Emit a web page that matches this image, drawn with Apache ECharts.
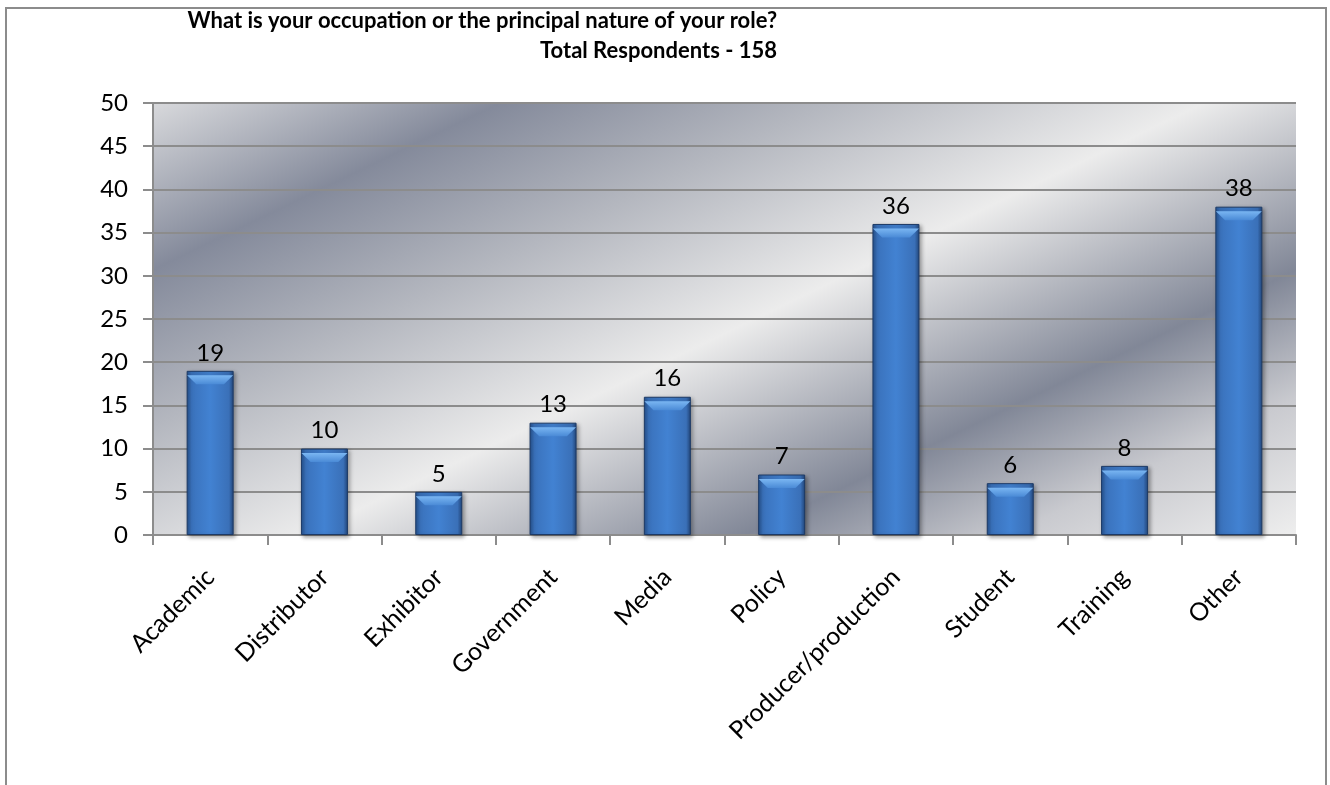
<!DOCTYPE html>
<html>
<head>
<meta charset="utf-8">
<script src="https://cdn.jsdelivr.net/npm/echarts@6/dist/echarts.min.js"></script>
<style>
  html, body { margin: 0; padding: 0; background: #fff; }
  #main { width: 1330px; height: 785px; }
</style>
</head>
<body>
<div id="main"></div>
<script>
  // survey answers
  var categories = ['Academic', 'Distributor', 'Exhibitor', 'Government', 'Media', 'Policy', 'Producer/production', 'Student', 'Training', 'Other']
  var counts = [19, 10, 5, 13, 16, 7, 36, 6, 8, 38]
  var titleLines = ['What is your occupation or the principal nature of your role?', 'Total Respondents - 158']

  var font = 'Lato, "Open Sans", sans-serif'

  // satin-like backdrop, bands running up to the right
  var plotBg = new echarts.graphic.LinearGradient(153, 103, 536, 900, [
    { offset: 0, color: '#d8d9dc' },
    { offset: 0.17, color: '#848a9b' },
    { offset: 0.33, color: '#b4b7bf' },
    { offset: 0.515, color: '#ececec' },
    { offset: 0.6, color: '#c2c4ca' },
    { offset: 0.73, color: '#818797' },
    { offset: 0.86, color: '#c9cacf' },
    { offset: 1, color: '#eeeeee' }
  ], true)

  var barFill = new echarts.graphic.LinearGradient(0, 0, 1, 0, [
    { offset: 0, color: '#24508c' },
    { offset: 0.1, color: '#3a72bc' },
    { offset: 0.5, color: '#4282d2' },
    { offset: 0.9, color: '#3a70b8' },
    { offset: 1, color: '#22467a' }
  ])

  var option = {
    backgroundColor: '#ffffff',
    animation: false,
    title: {
      text: titleLines.join('\n'),
      left: 772,
      top: 1,
      textAlign: 'right',
      textStyle: {
        fontFamily: font,
        fontSize: 22,
        fontWeight: 'bold',
        color: '#000',
        lineHeight: 30
      }
    },
    graphic: [{
      type: 'rect',
      shape: { x: 6, y: 8, width: 1320, height: 800 },
      style: { fill: 'none', stroke: '#8c8c8c', lineWidth: 2 },
      silent: true
    }],
    grid: {
      left: 153,
      right: 34,
      top: 103,
      bottom: 250,
      show: true,
      borderWidth: 0,
      backgroundColor: plotBg
    },
    xAxis: {
      type: 'category',
      data: categories,
      axisLine: { lineStyle: { color: '#8c8c8c', width: 2 } },
      axisTick: { show: true, length: 10, lineStyle: { color: '#8c8c8c', width: 2 } },
      axisLabel: {
        rotate: 45,
        margin: 38,
        interval: 0,
        fontFamily: font,
        fontSize: 25,
        color: '#000'
      }
    },
    yAxis: {
      type: 'value',
      min: 0,
      max: 50,
      interval: 5,
      axisLine: { show: true, lineStyle: { color: '#8c8c8c', width: 2 } },
      axisTick: { show: true, length: 10, lineStyle: { color: '#8c8c8c', width: 2 } },
      axisLabel: {
        margin: 25,
        fontFamily: font,
        fontSize: 24,
        color: '#000'
      },
      splitLine: { lineStyle: { color: '#8c8c8c', width: 2 } }
    },
    series: [{
      name: 'Respondents',
      type: 'bar',
      data: counts,
      barWidth: 47,
      itemStyle: {
        color: barFill,
        borderColor: '#1d3a66',
        borderWidth: 1,
        shadowBlur: 4,
        shadowOffsetX: 2,
        shadowOffsetY: 2,
        shadowColor: 'rgba(0,0,0,0.35)'
      },
      label: {
        show: true,
        position: 'top',
        distance: 6,
        fontFamily: font,
        fontSize: 24,
        color: '#000'
      }
    }, {
      // bevel on top of each bar
      name: 'bevel',
      type: 'pictorialBar',
      data: counts,
      barGap: '-100%',
      symbol: 'path://M0,0 L20,0 L16,4 L4,4 Z',
      symbolSize: [46, 9],
      symbolPosition: 'end',
      symbolOffset: [0, '50%'],
      z: 3,
      silent: true,
      itemStyle: {
        color: new echarts.graphic.LinearGradient(0, 0, 0, 1, [
          { offset: 0, color: '#7ab6f2' },
          { offset: 1, color: '#4a8ad6' }
        ])
      }
    }]
  }

  var myChart = echarts.init(document.getElementById('main'))
  myChart.setOption(option)
  window.addEventListener('resize', function() {
    myChart.resize()
  })
</script>
</body>
</html>
